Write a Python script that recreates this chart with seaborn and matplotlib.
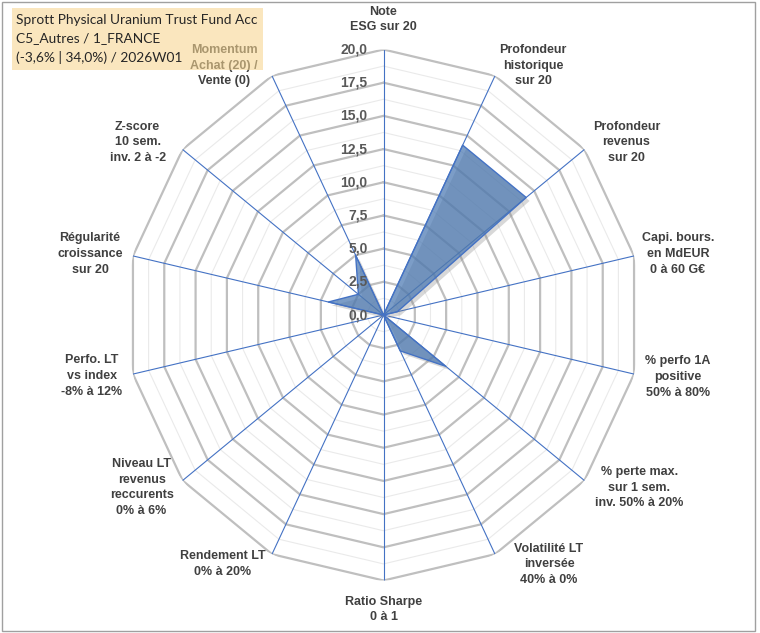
import numpy as np
import pandas as pd
import matplotlib
matplotlib.use("Agg")
import matplotlib.pyplot as plt
import matplotlib.patheffects as pe
from matplotlib.patches import Rectangle
import seaborn as sns

# ---------------- data ----------------
categories = [
    "Note\nESG sur 20",
    "Profondeur\nhistorique\nsur 20",
    "Profondeur\nrevenus\nsur 20",
    "Capi. bours.\nen MdEUR\n0 à 60 G€",
    "% perfo 1A\npositive\n50% à 80%",
    "% perte max.\nsur 1 sem.\ninv. 50% à 20%",
    "Volatilité LT\ninversée\n40% à 0%",
    "Ratio Sharpe\n0 à 1",
    "Rendement LT\n0% à 20%",
    "Niveau LT\nrevenus\nreccurents\n0% à 6%",
    "Perfo. LT\nvs index\n-8% à 12%",
    "Régularité\ncroissance\nsur 20",
    "Z-score\n10 sem.\ninv. 2 à -2",
    "Momentum\nAchat (20) /\nVente (0)",
]
scores = [0.0, 14.2, 14.2, 1.1, 0.0, 6.2, 3.0, 0.0, 0.0, 0.0, 0.0, 4.4, 2.5, 5.0]
r_ticks = [0.0, 2.5, 5.0, 7.5, 10.0, 12.5, 15.0, 17.5, 20.0]
r_tick_labels = ["0,0", "2,5", "5,0", "7,5", "10,0", "12,5", "15,0", "17,5", "20,0"]
r_minor = [1.25, 3.75, 6.25, 8.75, 11.25, 13.75, 16.25, 18.75]
title_text = "Sprott Physical Uranium Trust Fund Acc\nC5_Autres / 1_FRANCE\n(-3,6% | 34,0%) / 2026W01"

# label centre offsets from the outer vertex (pixels, x right / y down)
label_offsets = [(0, -30), (38, -10), (42, -7), (44, -2), (44, 3), (55, 7), (54, 10),
                 (0, 29), (-49, 10), (-41, 7), (-41, 2), (-43, -2), (-45, -7), (-48, -10)]

# ---------------- style ----------------
sns.set_theme(style="white")
plt.rcParams["font.family"] = ["Liberation Sans", "DejaVu Sans"]

W, H = 760, 633
fig = plt.figure(figsize=(W / 100, H / 100), dpi=100)
fig.patch.set_facecolor("white")

cx, cy, rx, ry = 383.5, 315.0, 257.0, 265.5
ax = fig.add_axes([(cx - rx) / W, 1 - (cy + ry) / H, 2 * rx / W, 2 * ry / H], projection="polar")
ax.set_aspect("auto")
ax.set_theta_zero_location("N")
ax.set_theta_direction(-1)
ax.set_ylim(0, 20)
ax.grid(False)
ax.spines["polar"].set_visible(False)
ax.patch.set_visible(False)

n = len(categories)
theta = np.linspace(0, 2 * np.pi, n, endpoint=False)
theta_c = np.append(theta, theta[0])

# polygon grid
for r in r_minor:
    ax.plot(theta_c, [r] * (n + 1), color="#EAEAEA", lw=0.8, zorder=1)
for r in r_ticks[1:]:
    ax.plot(theta_c, [r] * (n + 1), color="#BFBFBF", lw=1.6, zorder=2)
# spokes
for t in theta:
    ax.plot([t, t], [0, 20], color="#4472C4", lw=0.8, zorder=3)

# data polygon
vals_c = np.append(scores, scores[0])
poly = ax.fill(theta_c, vals_c, facecolor="#4A78B2", alpha=0.72, zorder=4, lw=0)
for p in poly:
    p.set_path_effects([pe.SimplePatchShadow(offset=(2.5, -2.5), shadow_rgbFace="#808080", alpha=0.3), pe.Normal()])
df = pd.DataFrame({"theta": theta_c, "score": vals_c})
sns.lineplot(data=df, x="theta", y="score", sort=False, ax=ax, color="#4472C4", lw=1.0, zorder=5, estimator=None)
ax.set_xlabel("")
ax.set_ylabel("")
ax.set_xticks([])
ax.set_yticks([])
ax.set_ylim(0, 20)

# radial tick labels
for r, lab in zip(r_ticks, r_tick_labels):
    ax.annotate(lab, xy=(0, r), xycoords="data", xytext=(-16, 0), textcoords="offset pixels",
                ha="right", va="center", fontsize=10, fontweight="bold", color="#595959",
                zorder=6, annotation_clip=False)

# category labels
for t, lab, (dx, dy) in zip(theta, categories, label_offsets):
    ax.annotate(lab, xy=(t, 20), xycoords="data", xytext=(dx, -dy), textcoords="offset pixels",
                ha="center", va="center", multialignment="center", fontsize=9, fontweight="bold",
                color="#404040", linespacing=1.4, zorder=6, annotation_clip=False)

# title box (drawn over the axes)
fig.patches.append(Rectangle((12 / W, 1 - 70 / H), 251 / W, 62 / H, transform=fig.transFigure,
                             facecolor="#F7D590", alpha=0.58, edgecolor="none", zorder=1))
fig.text(16 / W, 1 - 14.5 / H, title_text, ha="left", va="top", fontsize=9.9, color="#262626",
         family=["Lato", "DejaVu Sans"], linespacing=1.6, zorder=3)

# outer frame
fig.patches.append(Rectangle((2 / W, 2 / H), 753 / W, 629 / H, transform=fig.transFigure,
                             fill=False, edgecolor="#A0A0A0", lw=1.0, zorder=2))

fig.savefig("out.png", dpi=100, facecolor="white")
